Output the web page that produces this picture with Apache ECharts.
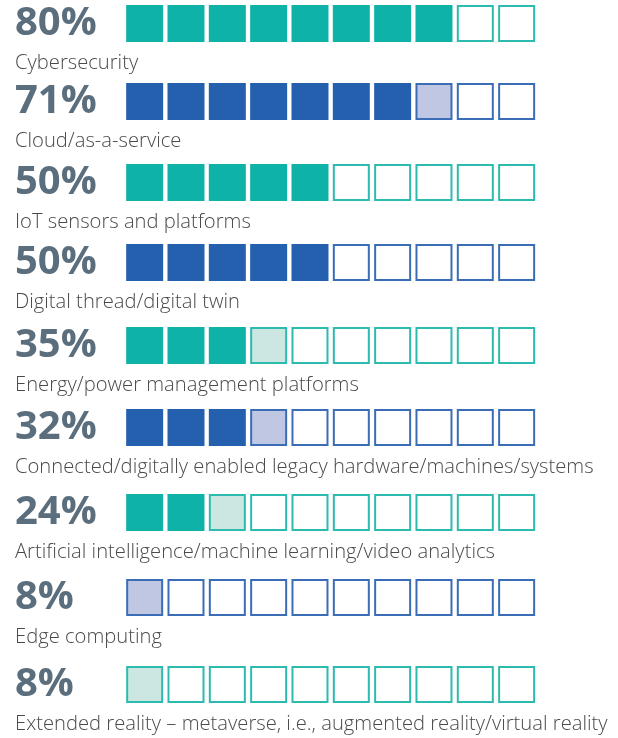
<!DOCTYPE html>
<html>
<head>
<meta charset="utf-8">
<script src="https://cdn.jsdelivr.net/npm/echarts@6/dist/echarts.min.js"></script>
<style>
html,body{margin:0;padding:0;background:#fff;}
#chart{width:618px;height:738px;}
</style>
</head>
<body>
<div id="chart"></div>
<script>
const categories = [
  "Cybersecurity",
  "Cloud/as-a-service",
  "IoT sensors and platforms",
  "Digital thread/digital twin",
  "Energy/power management platforms",
  "Connected/digitally enabled legacy hardware/machines/systems",
  "Artificial intelligence/machine learning/video analytics",
  "Edge computing",
  "Extended reality \u2013 metaverse, i.e., augmented reality/virtual reality"
];
const percents = [80, 71, 50, 50, 35, 32, 24, 8, 8];
const colorGroup = ["teal", "blue", "teal", "blue", "teal", "blue", "teal", "blue", "teal"];
const cellCount = 10;

// styling (not data)
const palettes = {
  teal: { full: "#0FB2A7", partial: "#CCE6E2", border: "#2DBBAF" },
  blue: { full: "#2460AE", partial: "#BFC7E3", border: "#3B6DB7" }
};
const rowTops = [5, 83, 164, 244, 327, 409, 494, 579, 666];
const cellH = 37;
const gridLeft = 124;
const gridWidth = 413.3;

const grids = [], xAxes = [], yAxes = [], series = [], titles = [];
percents.forEach((p, i) => {
  const pal = palettes[colorGroup[i]];
  grids.push({ left: gridLeft, width: gridWidth, top: rowTops[i], height: cellH });
  xAxes.push({
    gridIndex: i, type: "category", show: false,
    data: Array.from({ length: cellCount }, (_, k) => String(k))
  });
  yAxes.push({
    gridIndex: i, type: "category", data: [p + "%"],
    axisLine: { show: false }, axisTick: { show: false }, splitLine: { show: false },
    axisLabel: {
      align: "left", margin: gridLeft - 15, fontFamily: "Open Sans",
      fontSize: 40, fontWeight: "bold", color: "#5B6E7D"
    }
  });
  const fullCount = Math.floor(p / 10);
  const hasPartial = p % 10 > 0;
  const data = [];
  for (let k = 0; k < cellCount; k++) {
    let item;
    if (k < fullCount) {
      item = { value: [k, 0], symbolSize: [37, 37], itemStyle: { color: pal.full, borderWidth: 0 } };
    } else if (k === fullCount && hasPartial) {
      item = { value: [k, 0], symbolSize: [35, 35], itemStyle: { color: pal.partial, borderColor: pal.border, borderWidth: 2 } };
    } else {
      item = { value: [k, 0], symbolSize: [35, 35], itemStyle: { color: "#ffffff", borderColor: pal.border, borderWidth: 2 } };
    }
    data.push(item);
  }
  series.push({
    type: "scatter", xAxisIndex: i, yAxisIndex: i, symbol: "rect",
    silent: true, animation: false, data: data, itemStyle: { opacity: 1 }
  });
  titles.push({
    text: categories[i], left: 15, top: rowTops[i] + cellH + 11, padding: 0,
    textStyle: { fontFamily: "Open Sans", fontSize: 20.2, fontWeight: 300, color: "#4A4A4A" }
  });
});

const chart = echarts.init(document.getElementById("chart"), null, { renderer: "canvas" });
chart.setOption({
  backgroundColor: "#ffffff",
  animation: false,
  title: titles,
  grid: grids,
  xAxis: xAxes,
  yAxis: yAxes,
  series: series
});
</script>
</body>
</html>
